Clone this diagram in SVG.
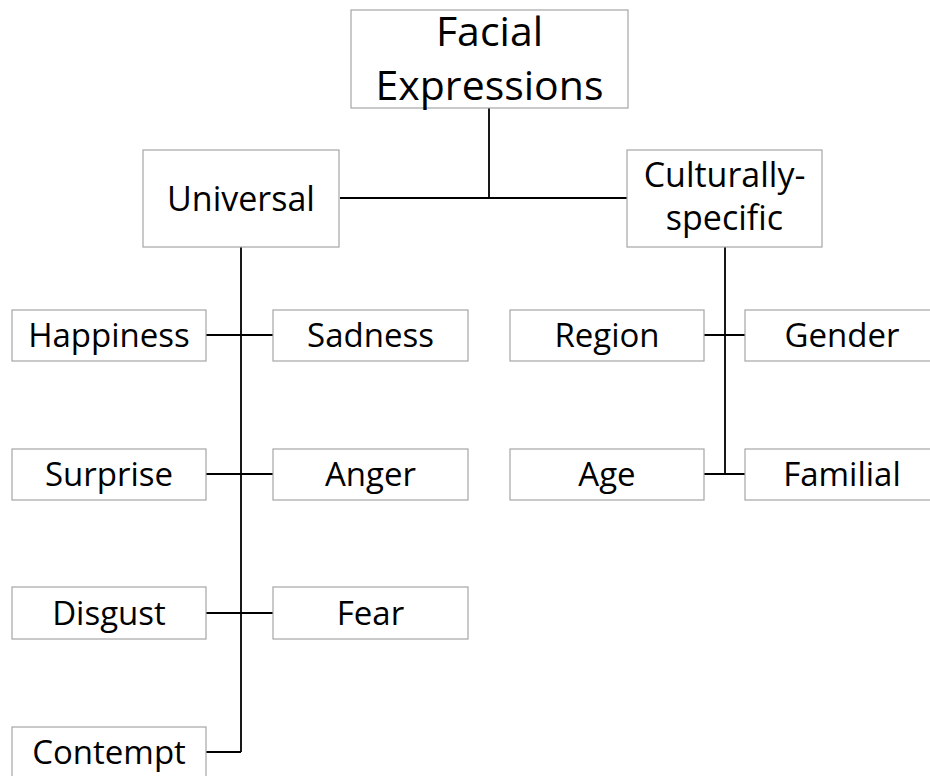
<svg xmlns="http://www.w3.org/2000/svg" width="930" height="776" viewBox="0 0 930 776">
<style>
.box{fill:#ffffff;stroke:#a6a6a6;stroke-width:1.2}
.t{font-family:"Open Sans","Liberation Sans",sans-serif;font-size:33px;fill:#000;text-anchor:middle}
.t2{font-size:34px}
.t3{font-size:41px}
.c{stroke:#000;stroke-width:1.8;fill:none}
</style>
<rect width="930" height="776" fill="#fff"/>
<g id="connectors">
<path class="c" d="M489,108 V198 M340,198 H627"/>
<path class="c" d="M241,247 V752 M206,752 H241 M206,335 H273 M206,474 H273 M206,613 H273"/>
<path class="c" d="M725,247 V474 M704,335 H745 M704,474 H745"/>
</g>
<g id="facial-expressions"><rect class="box" x="351" y="10" width="277" height="98"/><text class="t t3" x="489.5" y="46">Facial</text><text class="t t3" x="489.5" y="100">Expressions</text></g>
<g id="universal"><rect class="box" x="143" y="150" width="196" height="97"/><text class="t t2" x="241" y="211">Universal</text></g>
<g id="culturally-specific"><rect class="box" x="627" y="150" width="195" height="97"/><text class="t t2" x="724.5" y="187">Culturally-</text><text class="t t2" x="724.5" y="230">specific</text></g>
<g id="happiness"><rect class="box" x="12" y="310" width="194" height="51"/><text class="t" x="109" y="347">Happiness</text></g>
<g id="sadness"><rect class="box" x="273" y="310" width="195" height="51"/><text class="t" x="370.5" y="347">Sadness</text></g>
<g id="surprise"><rect class="box" x="12" y="449" width="194" height="51"/><text class="t" x="109" y="486">Surprise</text></g>
<g id="anger"><rect class="box" x="273" y="449" width="195" height="51"/><text class="t" x="370.5" y="486">Anger</text></g>
<g id="disgust"><rect class="box" x="12" y="587" width="194" height="52"/><text class="t" x="109" y="625">Disgust</text></g>
<g id="fear"><rect class="box" x="273" y="587" width="195" height="52"/><text class="t" x="370.5" y="625">Fear</text></g>
<g id="contempt"><rect class="box" x="12" y="727" width="194" height="52"/><text class="t" x="109" y="764">Contempt</text></g>
<g id="region"><rect class="box" x="510" y="310" width="194" height="51"/><text class="t" x="607" y="347">Region</text></g>
<g id="gender"><rect class="box" x="745" y="310" width="195" height="51"/><text class="t" x="842" y="347">Gender</text></g>
<g id="age"><rect class="box" x="510" y="449" width="194" height="51"/><text class="t" x="607" y="486">Age</text></g>
<g id="familial"><rect class="box" x="745" y="449" width="195" height="51"/><text class="t" x="842" y="486">Familial</text></g>
</svg>
